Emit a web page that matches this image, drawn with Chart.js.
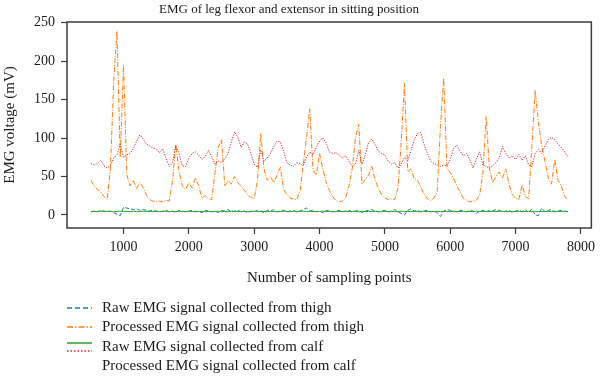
<!DOCTYPE html>
<html>
<head>
<meta charset="utf-8">
<script src="https://cdn.jsdelivr.net/npm/chart.js@4.4.0/dist/chart.umd.min.js"></script>
<style>
  html, body { margin: 0; padding: 0; background: #fff; }
  #wrap { width: 600px; height: 376px; }
</style>
</head>
<body>
<div id="wrap"><canvas id="emgChart" width="600" height="376"></canvas></div>
<script>
// sampling points (x)
const samplePoints = [
  500,550,600,650,700,750,800,850,900,950,
  1000,1050,1100,1150,1200,1250,1300,1350,1400,1450,
  1500,1550,1600,1650,1700,1750,1800,1850,1900,1950,
  2000,2050,2100,2150,2200,2250,2300,2350,2400,2450,
  2500,2550,2600,2650,2700,2750,2800,2850,2900,2950,
  3000,3050,3100,3150,3200,3250,3300,3350,3400,3450,
  3500,3550,3600,3650,3700,3750,3800,3850,3900,3950,
  4000,4050,4100,4150,4200,4250,4300,4350,4400,4450,
  4500,4550,4600,4650,4700,4750,4800,4850,4900,4950,
  5000,5050,5100,5150,5200,5250,5300,5350,5400,5450,
  5500,5550,5600,5650,5700,5750,5800,5850,5900,5950,
  6000,6050,6100,6150,6200,6250,6300,6350,6400,6450,
  6500,6550,6600,6650,6700,6750,6800,6850,6900,6950,
  7000,7050,7100,7150,7200,7250,7300,7350,7400,7450,
  7500,7550,7600,7650,7700,7750,7800
];

// raw EMG, thigh
const rawThigh = [
  4,5,4,6,5,4,5,3,1,-1,
  10,9,8,7,8,6,7,6,5,6,
  5,4,5,6,4,5,3,6,5,4,
  5,6,4,5,3,6,5,4,5,3,
  6,5,7,4,5,6,4,5,3,5,
  4,6,5,3,6,5,7,4,5,6,
  4,5,6,4,5,7,9,5,6,4,
  5,3,6,5,4,5,6,4,5,6,
  4,5,6,3,5,6,7,5,4,5,
  6,4,5,7,4,2,0,6,8,5,
  6,4,5,6,4,5,3,-2,5,7,
  6,5,4,6,5,4,6,5,2,5,
  6,4,6,5,7,6,4,5,6,3,
  5,6,4,7,3,8,0,-1,9,4,
  6,7,4,5,6,5,4
];

// processed EMG, thigh
const procThigh = [
  45,38,33,30,24,20,60,175,239,75,
  195,52,38,45,34,42,36,26,20,18,
  17,18,17,19,18,45,92,56,38,33,
  42,35,48,38,22,25,21,20,55,88,
  98,38,45,40,50,42,38,32,26,23,
  21,45,106,60,45,50,42,52,62,33,
  27,22,21,20,30,65,100,138,58,52,
  80,60,43,32,24,19,17,18,22,38,
  60,100,118,40,46,52,63,45,35,26,
  22,20,21,20,35,95,171,56,60,47,
  45,36,27,21,19,22,30,115,178,62,
  55,48,38,30,22,19,17,18,19,26,
  55,128,60,42,50,56,48,60,40,26,
  22,20,39,24,21,90,162,120,90,70,
  48,40,72,45,38,24,20
];

// raw EMG, calf
const rawCalf = [
  4.2,4.6,4.4,5.0,4.3,4.8,4.5,4.1,4.6,4.9,
  4.4,4.7,4.2,4.8,4.5,4.3,4.9,4.4,4.6,4.2,
  4.7,4.3,4.5,4.8,4.2,4.6,4.4,4.9,4.3,4.5,
  4.6,4.2,4.8,4.4,4.5,4.1,4.7,4.3,4.6,4.8,
  4.4,4.5,4.2,4.9,4.6,4.3,4.5,4.7,4.2,4.4,
  4.8,4.3,4.6,4.5,4.1,4.7,4.4,4.6,4.3,4.9,
  4.5,4.2,4.7,4.4,4.6,4.8,4.3,4.5,4.2,4.6,
  4.4,4.9,4.3,4.6,4.5,4.2,4.7,4.4,4.8,4.3,
  4.6,4.5,4.1,4.7,4.4,4.6,4.3,4.8,4.5,4.2,
  4.7,4.4,4.6,4.3,4.5,4.9,4.2,4.6,4.4,4.7,
  4.3,4.5,4.8,4.2,4.6,4.4,4.7,4.3,4.5,4.6,
  4.2,4.8,4.4,4.5,4.7,4.3,4.6,4.4,4.9,4.5,
  4.3,4.6,4.2,4.7,4.5,4.4,4.8,4.3,4.6,4.5,
  4.4,4.7,4.3,4.5,4.6,4.2,4.8,4.4,4.5,4.3,
  4.6,4.4,4.7,4.5,4.3,4.6,4.4
];

// processed EMG, calf
const procCalf = [
  67,65,67,71,64,61,64,74,78,92,
  75,78,80,86,96,104,99,92,90,87,
  86,81,86,74,63,68,90,80,64,63,
  74,80,82,78,72,76,84,76,66,70,
  68,73,80,95,108,101,88,95,92,80,
  66,62,85,70,74,80,89,96,95,83,
  68,65,63,68,67,64,75,82,78,88,
  96,100,94,82,80,81,78,74,77,70,
  63,66,84,66,78,94,99,92,83,80,
  78,70,66,68,61,66,75,70,84,98,
  106,107,92,80,70,67,65,63,65,64,
  72,86,91,83,77,80,72,61,73,82,
  65,63,61,64,68,74,89,80,74,77,
  72,79,71,77,65,63,80,85,80,90,
  98,101,98,92,88,82,76
];

const xTicks = [1000, 2000, 3000, 4000, 5000, 6000, 7000, 8000];
const yTicks = [0, 50, 100, 150, 200, 250];

const seriesNames = [
  'Raw EMG signal collected from thigh',
  'Processed EMG signal collected from thigh',
  'Raw EMG signal collected from calf',
  'Processed EMG signal collected from calf'
];
const seriesColors = ['#1f77b4', '#ff7f0e', '#2ca02c', '#d62728'];
const seriesDash = [[4, 2], [5, 1.5, 1, 1.5], [], [1.2, 1.4]];
const legendDash = [[5, 3], [6, 2, 1.5, 2], [], [1.5, 2]];

const serif = "'Liberation Serif', 'DejaVu Serif', serif";

function toPoints(values) {
    return samplePoints.map((x, i) => ({ x: x, y: values[i] }));
}

// title, frame and the legend under the axis
const figureText = {
    id: 'figureText',
    afterDatasetsDraw(chart) {
        const { ctx, chartArea } = chart;
        ctx.save();
        ctx.strokeStyle = '#3c3c3c';
        ctx.lineWidth = 1.5;
        ctx.strokeRect(chartArea.left, chartArea.top, chartArea.right - chartArea.left, chartArea.bottom - chartArea.top);
        ctx.restore();
    },
    afterDraw(chart) {
        const ctx = chart.ctx;
        ctx.save();
        ctx.fillStyle = '#1a1a1a';
        ctx.font = '13px ' + serif;
        ctx.textAlign = 'center';
        ctx.textBaseline = 'middle';
        ctx.fillText('EMG of leg flexor and extensor in sitting position', 289, 10);

        // legend samples (third row holds two samples, like the original)
        const sampleY = [308, 327, 343, 351];
        for (let i = 0; i < 4; i++) {
            ctx.beginPath();
            ctx.strokeStyle = seriesColors[i];
            ctx.lineWidth = 1.5;
            ctx.setLineDash(legendDash[i]);
            ctx.moveTo(67, sampleY[i]);
            ctx.lineTo(92, sampleY[i]);
            ctx.stroke();
        }
        ctx.setLineDash([]);
        const textY = [308, 327, 347, 366];
        ctx.textAlign = 'left';
        ctx.font = '15px ' + serif;
        for (let i = 0; i < 4; i++) {
            ctx.fillText(seriesNames[i], 102, textY[i]);
        }
        ctx.restore();
    }
};

const ctx = document.getElementById('emgChart').getContext('2d');

new Chart(ctx, {
    type: 'line',
    data: {
        datasets: [0, 1, 2, 3].map(i => ({
            label: seriesNames[i],
            data: toPoints([rawThigh, procThigh, rawCalf, procCalf][i]),
            borderColor: seriesColors[i],
            borderWidth: 1,
            borderDash: seriesDash[i],
            pointRadius: 0,
            tension: 0,
            fill: false,
            order: 4 - i
        }))
    },
    options: {
        responsive: false,
        animation: false,
        layout: {
            padding: { top: 22, right: 4, left: 0, bottom: 0 }
        },
        plugins: {
            legend: { display: false },
            title: { display: false },
            tooltip: { enabled: false }
        },
        scales: {
            x: {
                type: 'linear',
                min: 135,
                max: 8160,
                afterFit: function (scale) { scale.height = 148; },
                afterBuildTicks: function (scale) { scale.ticks = xTicks.map(v => ({ value: v })); },
                border: { display: false },
                grid: {
                    drawOnChartArea: false,
                    drawTicks: true,
                    tickLength: 6,
                    tickWidth: 1.2,
                    tickColor: '#3c3c3c'
                },
                ticks: {
                    padding: 5,
                    maxRotation: 0,
                    color: '#1a1a1a',
                    font: { family: serif, size: 14 },
                    callback: function (value) { return String(value); }
                },
                title: {
                    display: true,
                    text: 'Number of sampling points',
                    color: '#1a1a1a',
                    font: { family: serif, size: 15 },
                    padding: { top: 0, bottom: 89 }
                }
            },
            y: {
                min: -17,
                max: 251,
                afterFit: function (scale) { scale.width = 67; },
                afterBuildTicks: function (scale) { scale.ticks = yTicks.map(v => ({ value: v })); },
                border: { display: false },
                grid: {
                    drawOnChartArea: false,
                    drawTicks: true,
                    tickLength: 6,
                    tickWidth: 1.2,
                    tickColor: '#3c3c3c'
                },
                ticks: {
                    padding: 6,
                    color: '#1a1a1a',
                    font: { family: serif, size: 14 },
                    callback: function (value) { return String(value); }
                },
                title: {
                    display: true,
                    text: 'EMG voltage (mV)',
                    color: '#1a1a1a',
                    font: { family: serif, size: 15 },
                    padding: { top: 1, bottom: 0 }
                }
            }
        }
    },
    plugins: [figureText]
});
</script>
</body>
</html>
